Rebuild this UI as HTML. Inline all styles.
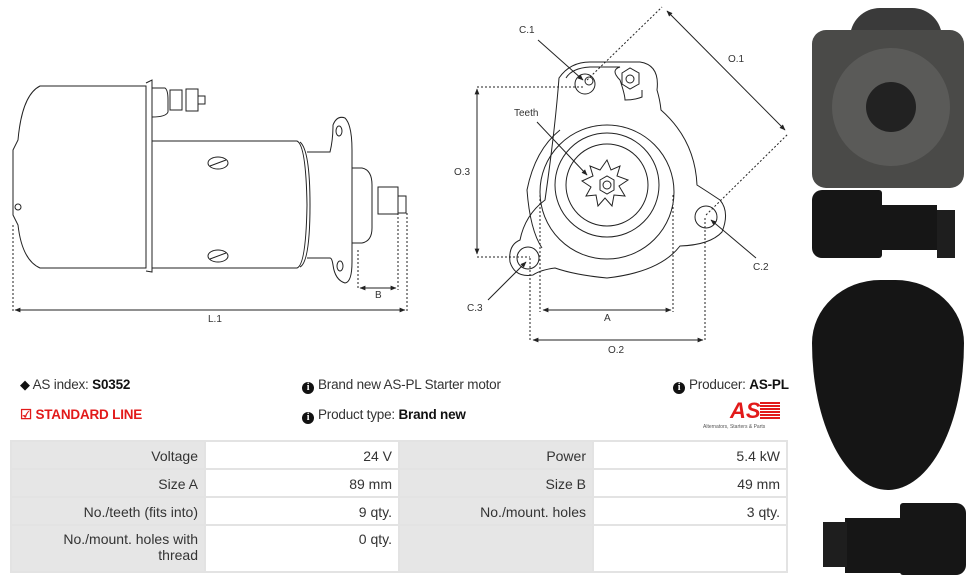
<!DOCTYPE html>
<html><head><meta charset="utf-8"><style>
body{margin:0;width:973px;height:580px;background:#fff;font-family:"Liberation Sans",sans-serif;position:relative;overflow:hidden}
.t{position:absolute;font-size:14px;color:#333;white-space:nowrap}
.i{font-size:13.5px;letter-spacing:-0.2px}
b{color:#111}
.ic{display:inline-block;width:12px;height:12px;border-radius:50%;background:#111;color:#fff;font-size:10px;font-weight:bold;text-align:center;line-height:12px;font-family:"Liberation Serif",serif;vertical-align:-1px;margin-right:4px}
table{position:absolute;left:10px;top:440px;width:778px;border-collapse:separate;border-spacing:2px;background:#e3e3e3;font-size:14px;color:#333}
td{text-align:right;padding:2px 6px 0 4px;height:24px}
td.l{background:#e6e6e6}td.v{background:#fff}
</style></head><body>
<svg width="973" height="580" style="position:absolute;left:0;top:0" fill="none" stroke="#222" stroke-width="1">
<defs><marker id="a" viewBox="0 0 10 10" refX="9" refY="5" markerWidth="6" markerHeight="6" orient="auto-start-reverse"><path d="M0,1 L10,5 L0,9 Z" fill="#222" stroke="none"/></marker></defs>
<path d="M40,86 H146 V268 H40 Q22,260 18,225 L13,215 V150 L18,140 Q22,95 40,86 Z"/>
<path d="M146,83 L152,80 V272 L146,271"/>
<path d="M152,88 H165 Q168,90 168,100 V112 Q166,117 152,117"/>
<rect x="170" y="90" width="12" height="20"/><rect x="186" y="89" width="12" height="22"/><rect x="198" y="96" width="7" height="8"/>
<path d="M152,141 H297 Q306,145 307,205 Q306,265 297,268 H152"/>
<path d="M300,142 Q310,150 310,205 Q310,262 300,267"/>
<path d="M307,152 H330 Q333,140 333,125 Q337,115 345,118 Q352,125 352,150 V262 Q352,282 345,283 Q335,280 333,265 Q332,258 330,258 H307"/>
<ellipse cx="339" cy="131" rx="3" ry="5"/><ellipse cx="340" cy="266" rx="3" ry="5"/>
<path d="M352,168 H362 Q372,170 372,185 V228 Q372,241 362,243 H352"/>
<rect x="378" y="187" width="20" height="27"/><rect x="398" y="196" width="8" height="17"/>
<ellipse cx="218" cy="163" rx="10" ry="6"/><line x1="210" y1="166" x2="226" y2="160"/>
<ellipse cx="218" cy="256" rx="10" ry="6"/><line x1="210" y1="259" x2="226" y2="253"/>
<circle cx="18" cy="207" r="3"/>
<g stroke-dasharray="2,2"><line x1="13" y1="225" x2="13" y2="312"/><line x1="407" y1="213" x2="407" y2="312"/><line x1="358" y1="250" x2="358" y2="290"/><line x1="398" y1="213" x2="398" y2="290"/></g>
<line x1="15" y1="310" x2="405" y2="310" marker-start="url(#a)" marker-end="url(#a)"/><line x1="360" y1="288" x2="396" y2="288" marker-start="url(#a)" marker-end="url(#a)"/>
<path d="M559,78 Q570,62 590,62 H640 Q660,65 657,90 Q660,100 661,110 Q695,140 697,185 Q708,192 720,200 Q730,212 722,232 Q710,245 680,246 Q660,272 607,278 Q575,275 555,268 Q540,270 533,275 Q515,278 510,262 Q508,245 520,240 Q525,215 545,200 Q555,130 559,78 Z"/>
<path d="M566,78 Q572,68 590,67 H620 Q610,70 620,80 Q625,95 625,100 Q635,100 642,97 V90"/>
<path d="M560,130 Q535,150 527,190 Q530,230 542,248"/>
<circle cx="607" cy="192" r="67"/><circle cx="607" cy="185" r="52"/><circle cx="607" cy="185" r="41"/>
<circle cx="585" cy="84" r="10"/><circle cx="589" cy="81" r="4"/>
<path d="M622,73 L630,68 L639,73 V84 L630,89 L622,84 Z"/><circle cx="630" cy="79" r="4"/>
<circle cx="706" cy="217" r="11"/><circle cx="528" cy="258" r="11"/>
<path d="M607,160 L611,170 L620,166 L617,176 L628,180 L619,186 L625,196 L614,195 L612,206 L605,198 L598,206 L596,195 L586,196 L591,187 L582,181 L593,176 L590,166 L600,170 Z"/>
<path d="M600,180 L607,176 L614,180 V190 L607,194 L600,190 Z"/><circle cx="607" cy="185" r="4"/>
<g stroke-dasharray="2,2"><line x1="477" y1="87" x2="585" y2="87"/><line x1="477" y1="257" x2="530" y2="257"/>
<line x1="540" y1="195" x2="540" y2="312"/><line x1="673" y1="195" x2="673" y2="312"/>
<line x1="530" y1="258" x2="530" y2="342"/><line x1="705" y1="218" x2="705" y2="342"/>
<line x1="587" y1="80" x2="662" y2="7"/><line x1="706" y1="215" x2="788" y2="134"/></g>
<line x1="477" y1="89" x2="477" y2="254" marker-start="url(#a)" marker-end="url(#a)"/><line x1="543" y1="310" x2="671" y2="310" marker-start="url(#a)" marker-end="url(#a)"/><line x1="533" y1="340" x2="703" y2="340" marker-start="url(#a)" marker-end="url(#a)"/>
<line x1="667" y1="11" x2="785" y2="130" marker-start="url(#a)" marker-end="url(#a)"/>
<line x1="538" y1="40" x2="583" y2="80" marker-end="url(#a)"/><line x1="537" y1="122" x2="587" y2="175" marker-end="url(#a)"/><line x1="756" y1="258" x2="711" y2="220" marker-end="url(#a)"/><line x1="488" y1="300" x2="526" y2="262" marker-end="url(#a)"/>
</svg>
<div class="t" style="font-size:10px;left:208px;top:314px">L.1</div>
<div class="t" style="font-size:10px;left:375px;top:290px">B</div>
<div class="t" style="font-size:10px;left:519px;top:25px">C.1</div>
<div class="t" style="font-size:10px;left:514px;top:108px">Teeth</div>
<div class="t" style="font-size:10px;left:454px;top:167px">O.3</div>
<div class="t" style="font-size:10px;left:728px;top:54px">O.1</div>
<div class="t" style="font-size:10px;left:753px;top:262px">C.2</div>
<div class="t" style="font-size:10px;left:467px;top:303px">C.3</div>
<div class="t" style="font-size:10px;left:604px;top:313px">A</div>
<div class="t" style="font-size:10px;left:608px;top:345px">O.2</div>
<div style="position:absolute;left:850px;top:8px;width:92px;height:40px;background:#3a3a3a;border-radius:30px 30px 0 0"></div>
<div style="position:absolute;left:812px;top:30px;width:152px;height:158px;background:#4a4a48;border-radius:14px"></div>
<div style="position:absolute;left:832px;top:48px;width:118px;height:118px;background:#5a5a58;border-radius:50%"></div>
<div style="position:absolute;left:866px;top:82px;width:50px;height:50px;background:#222;border-radius:50%"></div>
<div style="position:absolute;left:812px;top:190px;width:70px;height:68px;background:#161616;border-radius:10px 3px 3px 10px"></div>
<div style="position:absolute;left:882px;top:205px;width:55px;height:45px;background:#161616"></div>
<div style="position:absolute;left:937px;top:210px;width:18px;height:48px;background:#1e1e1e"></div>
<div style="position:absolute;left:812px;top:280px;width:152px;height:210px;background:#151515;border-radius:45% 45% 50% 50%/30% 30% 70% 70%"></div>
<div style="position:absolute;left:845px;top:518px;width:60px;height:55px;background:#161616"></div>
<div style="position:absolute;left:900px;top:503px;width:66px;height:72px;background:#161616;border-radius:3px 10px 10px 3px"></div>
<div style="position:absolute;left:823px;top:522px;width:24px;height:45px;background:#1e1e1e"></div>
<div class="t i" style="left:20px;top:377px"><span style="font-size:13px;color:#111">&#x25C6;</span> AS index: <b>S0352</b></div>
<div class="t i" style="left:20px;top:407px;color:#e21a1a;font-weight:bold">&#9745; STANDARD LINE</div>
<div class="t i" style="left:302px;top:377px"><span class="ic">i</span>Brand new AS-PL Starter motor</div>
<div class="t i" style="left:302px;top:407px"><span class="ic">i</span>Product type: <b>Brand new</b></div>
<div class="t i" style="left:673px;top:377px"><span class="ic">i</span>Producer: <b>AS-PL</b></div>
<div class="t" style="left:730px;top:398px;color:#e21a1a;font-weight:bold;font-style:italic;font-size:22px">AS</div>
<div style="position:absolute;left:760px;top:402px;width:20px;height:18px;background:repeating-linear-gradient(#e21a1a 0 2px,#fff 2px 3px)"></div>
<div class="t" style="left:703px;top:424px;font-size:5px;color:#555">Alternators, Starters &amp; Parts</div>
<table>
<tr><td class="l" style="width:182px">Voltage</td><td class="v" style="width:182px">24 V</td><td class="l" style="width:182px">Power</td><td class="v" style="width:182px">5.4 kW</td></tr>
<tr><td class="l">Size A</td><td class="v">89 mm</td><td class="l">Size B</td><td class="v">49 mm</td></tr>
<tr><td class="l">No./teeth (fits into)</td><td class="v">9 qty.</td><td class="l">No./mount. holes</td><td class="v">3 qty.</td></tr>
<tr><td class="l" style="height:40px;vertical-align:top;padding-top:5px">No./mount. holes with<br>thread</td><td class="v" style="vertical-align:top;padding-top:5px">0 qty.</td><td class="l"></td><td class="v"></td></tr>
</table>
</body></html>
